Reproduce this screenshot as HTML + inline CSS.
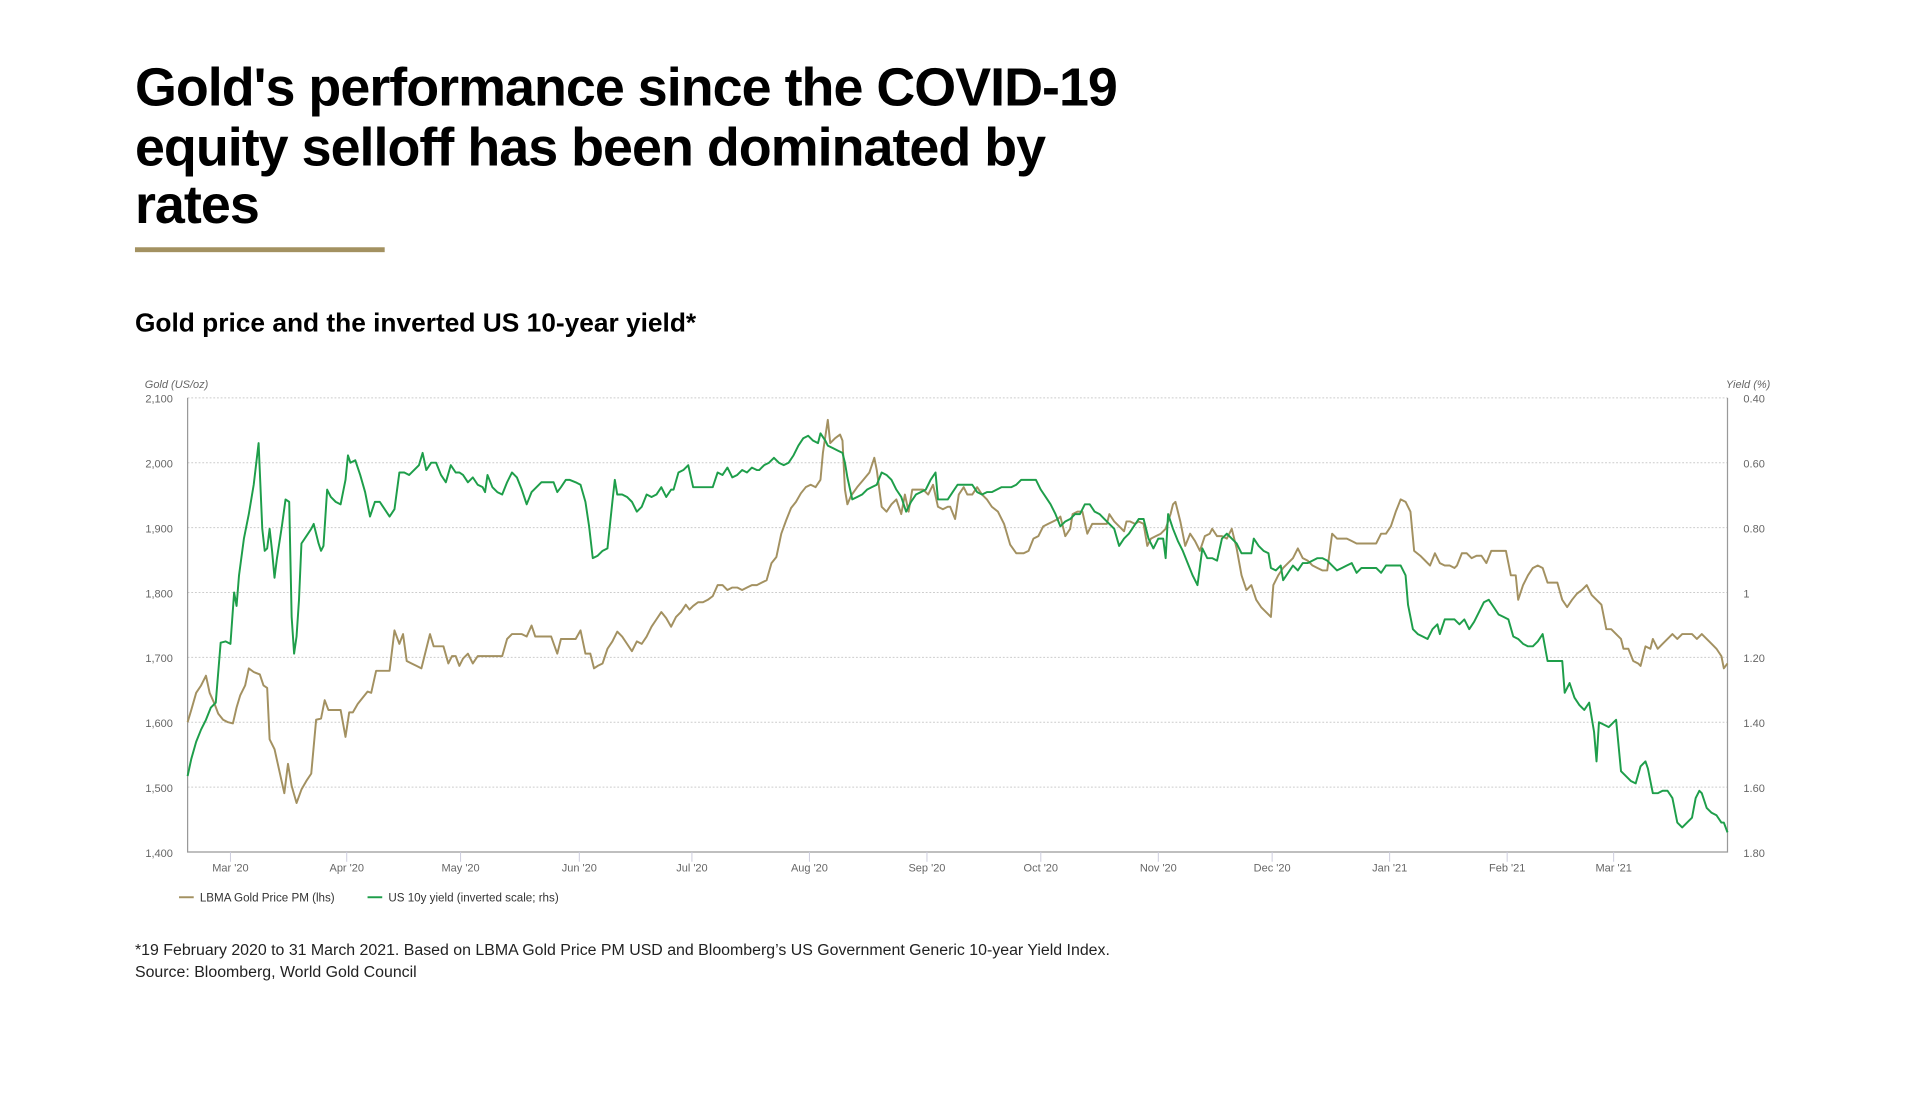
<!DOCTYPE html>
<html><head><meta charset="utf-8"><style>
html,body{margin:0;padding:0;background:#fff;width:1920px;height:1098px;overflow:hidden}
svg{display:block}
text{font-family:"Liberation Sans",Arial,sans-serif}
</style></head><body>
<svg width="1920" height="1098" viewBox="0 0 1568 897" xmlns="http://www.w3.org/2000/svg">
<g font-weight="bold" font-size="44" fill="#000" letter-spacing="-0.8">
<text x="110" y="86">Gold's performance since the COVID-19</text>
<text x="110" y="135">equity selloff has been dominated by</text>
<text x="110" y="182">rates</text>
</g>
<rect x="110" y="202" width="204" height="4" fill="#a39161"/>
<text x="110" y="271" font-size="21.5" font-weight="bold" fill="#000">Gold price and the inverted US 10-year yield*</text>
<text x="118" y="317" font-size="9" font-style="italic" fill="#666">Gold (US/oz)</text>
<text x="1446" y="317" font-size="9" font-style="italic" fill="#666" text-anchor="end">Yield (%)</text>
<g stroke="#ccc" stroke-dasharray="1.5,1.5" stroke-width="0.8">
<line x1="153" x2="1411" y1="325" y2="325"/><line x1="153" x2="1411" y1="378" y2="378"/>
<line x1="153" x2="1411" y1="431" y2="431"/><line x1="153" x2="1411" y1="484" y2="484"/>
<line x1="153" x2="1411" y1="537" y2="537"/><line x1="153" x2="1411" y1="590" y2="590"/>
<line x1="153" x2="1411" y1="643" y2="643"/>
</g>
<path d="M153 325V696H1411V325" fill="none" stroke="#999" stroke-width="1"/>
<g font-size="9" fill="#666" text-anchor="end">
<text x="141" y="329">2,100</text><text x="141" y="382">2,000</text><text x="141" y="435">1,900</text>
<text x="141" y="488">1,800</text><text x="141" y="541">1,700</text><text x="141" y="594">1,600</text>
<text x="141" y="647">1,500</text><text x="141" y="700">1,400</text>
</g>
<g font-size="9" fill="#666">
<text x="1424" y="329">0.40</text><text x="1424" y="382">0.60</text><text x="1424" y="435">0.80</text>
<text x="1424" y="488">1</text><text x="1424" y="541">1.20</text><text x="1424" y="594">1.40</text>
<text x="1424" y="647">1.60</text><text x="1424" y="700">1.80</text>
</g>
<g stroke="#ccd" stroke-width="0.8">
<line x1="188" x2="188" y1="696" y2="704"/><line x1="283" x2="283" y1="696" y2="704"/><line x1="376" x2="376" y1="696" y2="704"/>
<line x1="473" x2="473" y1="696" y2="704"/><line x1="565" x2="565" y1="696" y2="704"/><line x1="661" x2="661" y1="696" y2="704"/>
<line x1="757" x2="757" y1="696" y2="704"/><line x1="850" x2="850" y1="696" y2="704"/><line x1="946" x2="946" y1="696" y2="704"/>
<line x1="1039" x2="1039" y1="696" y2="704"/><line x1="1135" x2="1135" y1="696" y2="704"/><line x1="1231" x2="1231" y1="696" y2="704"/>
<line x1="1318" x2="1318" y1="696" y2="704"/>
</g>
<g font-size="9" fill="#666" text-anchor="middle">
<text x="188" y="712">Mar '20</text><text x="283" y="712">Apr '20</text><text x="376" y="712">May '20</text>
<text x="473" y="712">Jun '20</text><text x="565" y="712">Jul '20</text><text x="661" y="712">Aug '20</text>
<text x="757" y="712">Sep '20</text><text x="850" y="712">Oct '20</text><text x="946" y="712">Nov '20</text>
<text x="1039" y="712">Dec '20</text><text x="1135" y="712">Jan '21</text><text x="1231" y="712">Feb '21</text>
<text x="1318" y="712">Mar '21</text>
</g>
<polyline fill="none" stroke="#a39161" stroke-width="1.6" stroke-linejoin="round" points="153,590 156,580 160,566 164,560 168,552 171,566 175,575 178,583 182,588 186,590 190,591 193,578 196,568 200,560 203,546 207,549 212,551 215,560 218,562 220,604 224,612 228,630 232,648 235,624 238,642 242,656 246,645 250,638 254,632 258,588 262,587 265,572 268,580 273,580 278,580 282,602 285,582 288,582 292,575 296,570 300,565 303,566 307,548 312,548 318,548 322,515 326,526 329,518 332,540 336,542 340,544 344,546 348,530 351,518 354,528 358,528 362,528 366,542 369,536 372,536 375,544 378,538 382,534 386,542 390,536 394,536 398,536 402,536 406,536 410,536 414,522 418,518 422,518 426,518 430,520 434,511 437,520 440,520 444,520 450,520 455,534 458,522 462,522 466,522 470,522 474,515 478,534 482,534 485,546 488,544 492,542 496,530 500,524 504,516 508,520 512,526 516,532 520,524 524,526 528,520 532,512 536,506 540,500 544,505 548,512 552,504 556,500 560,494 563,498 566,495 570,492 574,492 578,490 582,487 586,478 590,478 594,482 598,480 602,480 606,482 610,480 614,478 618,478 622,476 626,474 630,460 634,455 638,436 642,425 646,415 650,410 654,403 658,398 662,396 666,398 670,392 672,370 676,343 678,362 682,358 686,355 688,360 690,400 692,412 695,405 700,398 705,392 710,386 714,374 716,384 720,414 724,418 728,412 732,408 736,420 739,404 742,418 745,400 750,400 754,400 758,404 762,396 766,414 770,416 774,414 776,414 780,424 783,404 787,398 790,404 794,404 798,398 802,404 806,408 810,414 815,418 820,428 825,445 830,452 836,452 840,450 844,440 848,438 852,430 856,428 860,426 864,424 866,422 870,438 874,432 876,420 880,418 884,418 888,436 892,428 896,428 900,428 904,428 906,420 910,426 914,430 918,434 920,426 923,426 927,428 930,426 934,428 937,446 940,440 944,438 948,436 952,432 956,420 958,412 960,410 964,426 968,446 972,436 976,442 980,450 984,438 988,436 990,432 994,438 998,438 1002,440 1006,432 1010,448 1014,470 1018,482 1022,478 1026,490 1030,496 1034,500 1038,504 1040,478 1044,470 1048,464 1052,460 1056,456 1060,448 1064,456 1068,458 1072,462 1076,464 1080,466 1084,466 1088,436 1092,440 1096,440 1100,440 1104,442 1108,444 1112,444 1116,444 1120,444 1124,444 1128,436 1132,436 1136,430 1140,418 1144,408 1148,410 1152,418 1155,450 1160,454 1164,458 1168,462 1172,452 1176,460 1180,462 1184,462 1188,464 1190,462 1194,452 1198,452 1202,456 1206,454 1210,454 1214,460 1218,450 1222,450 1226,450 1230,450 1234,470 1238,470 1240,490 1244,478 1248,470 1252,464 1256,462 1260,464 1264,476 1268,476 1272,476 1276,490 1280,496 1284,490 1288,485 1292,482 1296,478 1300,486 1304,490 1308,494 1312,514 1316,514 1320,518 1324,522 1326,530 1330,530 1334,540 1338,542 1340,544 1344,528 1348,530 1350,522 1354,530 1358,526 1362,522 1366,518 1370,522 1374,518 1378,518 1382,518 1386,522 1390,518 1394,522 1398,526 1402,530 1406,536 1408,546 1411,542"/>
<polyline fill="none" stroke="#1e9e4a" stroke-width="1.6" stroke-linejoin="round" points="153,634 156,620 160,606 164,596 168,588 172,578 176,574 180,525 184,524 188,526 191,484 193,495 195,470 199,440 203,420 207,396 211,362 214,432 216,450 218,448 220,432 222,450 224,472 226,456 230,430 233,408 236,410 238,504 240,534 242,520 244,490 246,444 250,438 254,432 256,428 260,444 262,450 264,446 267,400 270,406 274,410 278,412 282,392 284,372 286,378 290,376 294,388 298,402 302,422 306,410 310,410 314,416 318,422 322,416 326,386 330,386 334,388 338,384 342,380 345,370 348,384 352,378 356,378 360,388 364,394 368,380 372,386 375,386 378,388 382,394 386,390 390,396 394,398 396,402 398,388 402,398 406,402 410,404 414,394 418,386 422,390 426,400 430,412 434,402 438,398 442,394 446,394 450,394 452,394 455,402 458,398 462,392 465,392 470,394 474,396 478,410 481,430 484,456 488,454 492,450 496,448 500,410 502,392 504,404 508,404 512,406 516,410 520,418 524,414 528,404 532,406 536,404 540,398 544,406 548,400 550,400 554,386 558,384 562,380 566,398 570,398 574,398 578,398 582,398 586,386 590,388 594,382 598,390 602,388 606,384 610,386 614,382 618,384 620,384 624,380 628,378 632,374 636,378 640,380 644,378 648,372 652,364 656,358 660,356 664,360 668,362 670,354 674,360 676,364 680,366 684,368 688,370 690,378 692,390 696,408 700,406 704,404 708,400 712,398 716,396 720,386 724,388 728,392 732,400 736,406 740,418 744,410 748,404 752,402 756,400 760,392 764,386 766,408 770,408 774,408 778,402 782,396 786,396 790,396 794,396 798,402 802,404 806,402 810,402 814,400 818,398 822,398 826,398 830,396 834,392 838,392 842,392 846,392 850,400 854,406 858,412 862,420 866,430 870,426 874,424 878,420 882,420 886,412 890,412 894,418 898,420 902,424 906,428 910,432 914,446 918,440 922,436 926,430 930,424 934,424 938,440 942,448 946,440 950,440 952,456 954,420 958,432 962,442 966,450 970,460 974,470 978,478 982,448 986,456 990,456 994,458 998,440 1002,436 1006,440 1010,444 1014,452 1018,452 1022,452 1024,440 1028,446 1032,450 1036,452 1038,464 1042,466 1046,462 1048,474 1052,468 1056,462 1060,466 1064,460 1068,460 1072,458 1076,456 1080,456 1084,458 1088,462 1092,466 1096,464 1100,462 1104,460 1108,468 1112,464 1116,464 1120,464 1124,464 1128,468 1132,462 1136,462 1140,462 1144,462 1148,470 1150,494 1154,514 1158,518 1162,520 1166,522 1170,514 1174,510 1176,518 1180,506 1184,506 1188,506 1192,510 1196,506 1200,514 1204,508 1208,500 1212,492 1216,490 1220,496 1224,502 1228,504 1232,506 1236,520 1240,522 1244,526 1248,528 1252,528 1256,524 1260,518 1264,540 1268,540 1272,540 1276,540 1278,566 1282,558 1286,570 1290,576 1294,580 1298,574 1302,598 1304,622 1306,590 1310,592 1314,594 1318,590 1320,588 1324,630 1328,634 1332,638 1336,640 1340,626 1344,622 1346,628 1350,648 1354,648 1358,646 1362,646 1366,652 1370,672 1374,676 1378,672 1382,668 1385,652 1388,646 1390,648 1394,660 1398,664 1402,666 1406,672 1408,672 1411,680"/>
<line x1="146" x2="158" y1="733" y2="733" stroke="#a39161" stroke-width="1.6"/>
<text x="163" y="736.5" font-size="9.5" fill="#333">LBMA Gold Price PM (lhs)</text>
<line x1="300" x2="312" y1="733" y2="733" stroke="#1e9e4a" stroke-width="1.6"/>
<text x="317" y="736.5" font-size="9.5" fill="#333">US 10y yield (inverted scale; rhs)</text>
<text x="110" y="780" font-size="13" fill="#222">*19 February 2020 to 31 March 2021. Based on LBMA Gold Price PM USD and Bloomberg’s US Government Generic 10-year Yield Index.</text>
<text x="110" y="798" font-size="13" fill="#222">Source: Bloomberg, World Gold Council</text>
</svg>
</body></html>
